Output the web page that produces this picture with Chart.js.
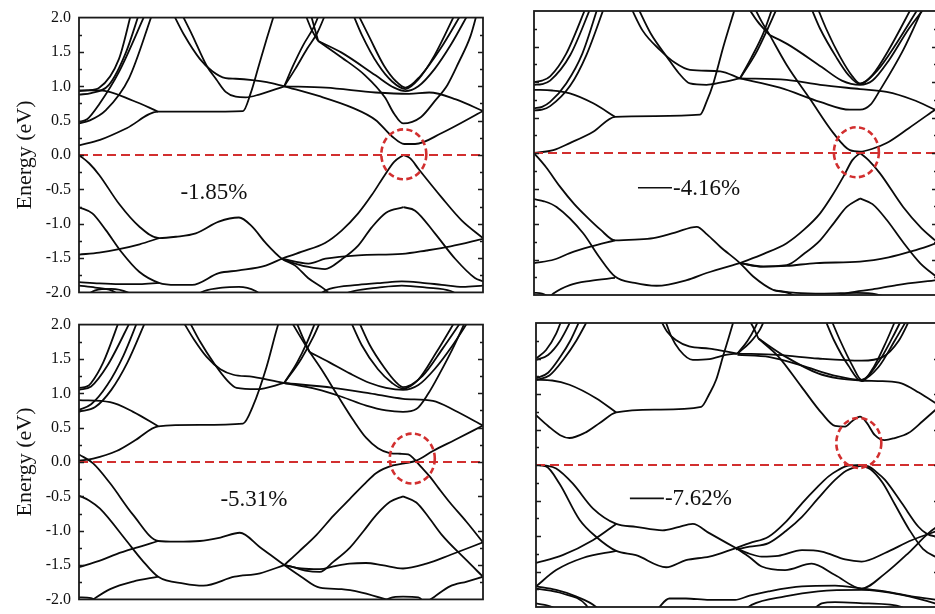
<!DOCTYPE html>
<html>
<head>
<meta charset="utf-8">
<script src="https://cdn.jsdelivr.net/npm/chart.js@4.4.1/dist/chart.umd.min.js"></script>
<style>
  html, body { margin: 0; padding: 0; background: #fff; overflow: hidden; }
  body { width: 935px; height: 614px; position: relative; }
  .panel { position: absolute; }
</style>
</head>
<body>
<div class="panel" style="left:0;top:0"><canvas id="p1" width="490" height="310"></canvas></div>
<div class="panel" style="left:500px;top:0"><canvas id="p2" width="440" height="310"></canvas></div>
<div class="panel" style="left:0;top:307px"><canvas id="p3" width="490" height="310"></canvas></div>
<div class="panel" style="left:500px;top:307px"><canvas id="p4" width="442" height="310"></canvas></div>
<script>
// k runs 0..100 along the path, energies in eV relative to the Fermi level
const strainLabels = ['-1.85%', '-4.16%', '-5.31%', '-7.62%'];
const gapK = [80.4, 80.0, 82.5, 80.1];
const gapE = [0.01, 0.01, 0.05, 0.31];
const kRange = [0, 100];
const energyRange = [-2, 2];
const fermiLevel = 0;

const bandsP1 = [
  [[0,0.14],[5.2,0.22],[11.8,0.39],[19.6,0.63],[30,0.63],[40.6,0.64],[42.5,0.9],[44.5,1.3],[46.5,1.7],[48.5,2.08]],
  [[0,0.94],[5.2,0.94],[13.4,0.79],[19.6,0.63]],
  [[0,0.93],[2,0.94],[5,0.98],[9.9,1.40],[13,2.08]],
  [[0,0.88],[3,0.9],[7.4,1.02],[11.6,1.49],[15,2.08]],
  [[0,0.48],[2,0.52],[5,0.74],[9.9,1.21],[16.6,2.08]],
  [[0,0.46],[2.5,0.5],[6.6,0.65],[12.4,1.12],[18.3,2.08]],
  [[23.1,2.08],[26,1.75],[29.9,1.40],[33,1.22],[36.3,1.12],[38.8,1.11],[42.9,1.09],[46.5,1.06],[50.8,1.0]],
  [[25.2,2.08],[28,1.75],[31.6,1.30],[34,1.1],[36.3,0.92],[38.8,0.85],[41.3,0.84],[44.6,0.88],[50.8,1.0]],
  [[50.8,1.0],[53.5,1.25],[56.5,1.55],[59,1.78],[61.2,2.08]],
  [[50.8,1.0],[53,1.3],[55.5,1.6],[58,1.85],[59.7,2.08]],
  [[55.8,2.08],[57.6,1.82],[59.2,1.66]],
  [[57.2,2.08],[58.3,1.85],[59.2,1.66]],
  [[59.2,1.66],[65,1.42],[70.8,1.16],[75.7,0.84],[78,0.6],[80.2,0.46],[84.6,0.55],[88,0.78],[91.2,1.02],[94,1.35],[96.9,1.73],[98.6,2.08]],
  [[59.2,1.66],[65,1.49],[73.4,1.16],[78,0.98],[80.8,0.93],[84,1.0],[88,1.25],[92,1.6],[96.6,2.08]],
  [[50.8,1.0],[59.3,0.86],[67.6,0.69],[73.4,0.51],[77.5,0.27],[80.5,0.16],[83.2,0.16],[89.8,0.32],[100,0.64]],
  [[50.8,1.0],[61.1,0.98],[73.4,0.91],[81.7,0.89],[86.7,0.91],[93.3,0.81],[100,0.64]],
  [[67.6,2.08],[70,1.75],[74,1.32],[77.5,1.07],[80.8,0.96],[84,1.1],[88,1.45],[93.3,2.08]],
  [[68.8,2.08],[72,1.7],[75.5,1.3],[78.5,1.07],[80.8,0.98],[84.5,1.15],[89.5,1.55],[94.9,2.08]],
  [[0,0],[2.5,-0.12],[5,-0.29],[9.9,-0.71],[14.9,-1.04],[19.8,-1.21],[24,-1.19],[28.9,-1.14],[34.6,-0.97],[39.6,-0.91],[42.8,-1.04],[46.2,-1.28],[50.2,-1.51],[53.5,-1.61],[56.7,-1.79],[60.9,-1.96],[63,-2.08]],
  [[0,-0.76],[3.3,-0.85],[6.6,-1.09],[10.6,-1.42],[14.9,-1.70],[19.8,-1.86],[24,-1.89],[28,-1.89],[34.6,-1.72],[39.6,-1.68],[46.2,-1.61],[50.2,-1.51]],
  [[0,-1.45],[5,-1.42],[9.9,-1.37],[15,-1.3],[19.8,-1.21]],
  [[0,-1.85],[5,-1.87],[10,-1.88],[15,-1.88],[19.8,-1.86]],
  [[0,-1.9],[4,-1.93],[8,-1.97],[11,-2.08]],
  [[1,-2.08],[4,-1.97],[8,-1.95],[12,-2.0],[14,-2.08]],
  [[28,-2.08],[31,-1.98],[35.5,-1.93],[39.6,-1.92],[43.7,-1.98],[46,-2.08]],
  [[58,-2.08],[62,-1.95],[69.1,-1.89],[75,-1.86],[79.9,-1.84],[85,-1.86],[89.8,-1.89],[95,-1.92],[100,-1.9]],
  [[63,-2.08],[68,-1.98],[74,-1.93],[79.9,-1.9],[86,-1.93],[92,-1.98],[95,-2.08]],
  [[50.2,-1.51],[55,-1.41],[60.9,-1.28],[65,-1.1],[69.1,-0.85],[72.5,-0.58],[75.7,-0.29],[78,-0.1],[80.3,0]],
  [[80.3,0],[82,-0.05],[84,-0.2],[89.8,-0.62],[94.7,-0.95],[100,-1.21]],
  [[50.2,-1.51],[53.5,-1.58],[56.8,-1.63],[60.9,-1.66],[65,-1.52],[69.1,-1.32],[72.5,-1.05],[76,-0.84],[80.3,-0.76]],
  [[80.3,-0.76],[83.2,-0.81],[88.1,-1.14],[93.1,-1.51],[98,-1.79],[100,-1.84]],
  [[50.2,-1.51],[56.8,-1.58],[61,-1.51],[69.1,-1.46],[80,-1.44],[86,-1.39],[92,-1.33],[100,-1.22]]
];

const bandsP2 = [
  [[0,0],[4.8,0.04],[8.9,0.14],[14.7,0.30],[20.1,0.51],[30,0.52],[41.2,0.54],[42.8,0.72],[44.5,0.98],[47,1.5],[49.5,1.97],[50.1,2.08]],
  [[0,0.89],[4.5,0.88],[8.9,0.84],[14.7,0.70],[20.1,0.51]],
  [[0,1.0],[2,1.02],[4,1.08],[8,1.4],[13.1,2.08]],
  [[0,0.96],[2,0.97],[4,1.02],[9,1.38],[14.3,2.08]],
  [[0,0.63],[2,0.65],[4,0.72],[8,0.98],[12,1.4],[16,2.08]],
  [[0,0.60],[2,0.61],[4,0.66],[9,0.95],[13,1.38],[17.6,2.08]],
  [[23.8,2.08],[27,1.72],[31.3,1.45],[35,1.27],[38.7,1.17],[46.2,1.15],[51.1,1.05]],
  [[25.5,2.08],[29,1.68],[32.9,1.36],[36,1.12],[38.7,0.98],[42.8,0.96],[46.2,0.99],[51.1,1.05]],
  [[51.1,1.05],[54,1.35],[57,1.7],[59.4,2.08]],
  [[51.1,1.05],[55,1.4],[58,1.75],[60.6,2.08]],
  [[52.8,2.08],[55.5,1.85],[58.5,1.66]],
  [[54.4,2.08],[56.5,1.85],[58.5,1.66]],
  [[58.5,1.66],[62.7,1.24],[68.5,0.76],[74.3,0.28],[78.4,0.04],[80.9,0.02],[84,0.06],[87.5,0.14],[93,0.35],[99.5,0.61]],
  [[58.5,1.66],[63,1.53],[71.4,1.21],[76.4,1.02],[80.9,0.96],[84,1.02],[88,1.3],[93,1.75],[97.4,2.08]],
  [[51.1,1.05],[61,0.92],[71,0.72],[78.4,0.61],[80.9,0.61],[83.5,0.68],[85.9,0.89],[91.6,1.45],[96.8,2.08]],
  [[51.1,1.05],[62.7,1.03],[71,0.96],[80.9,0.90],[87.5,0.86],[94,0.75],[99.5,0.61]],
  [[68.5,2.08],[71,1.75],[75,1.35],[78,1.1],[80.9,0.97],[84,1.1],[88,1.45],[94,2.08]],
  [[70.1,2.08],[72.5,1.75],[76,1.35],[79,1.08],[80.9,0.98],[85,1.15],[90,1.55],[95.8,2.08]],
  [[0,0],[3,-0.2],[6.4,-0.47],[10,-0.72],[13.1,-0.90],[16.5,-1.08],[20.1,-1.23],[25,-1.22],[29.6,-1.20],[35,-1.12],[40.4,-1.04],[43,-1.15],[46.2,-1.32],[51.1,-1.55],[54.4,-1.74],[59.4,-1.93],[63,-1.97],[67,-2.08]],
  [[0,-0.65],[2.5,-0.68],[5.6,-0.76],[12.2,-1.13],[16,-1.45],[20.1,-1.74],[25,-1.83],[30.4,-1.87],[37.9,-1.79],[42.8,-1.69],[51.1,-1.55]],
  [[0,-1.55],[5,-1.5],[8.9,-1.41],[14,-1.32],[20.1,-1.23]],
  [[3,-2.08],[4.8,-1.98],[8.9,-1.86],[14,-1.8],[20.1,-1.76]],
  [[0,-1.97],[2,-1.98],[5,-2.08]],
  [[51.1,-1.55],[57,-1.42],[62.7,-1.27],[67,-1.08],[71,-0.85],[74,-0.6],[76.8,-0.33],[79,-0.1],[80.9,0]],
  [[80.9,0],[83,-0.1],[85.9,-0.29],[91.6,-0.76],[96,-1.05],[99.5,-1.23]],
  [[51.1,-1.55],[56.1,-1.6],[62.7,-1.58],[67,-1.42],[71,-1.23],[74.5,-0.98],[77.6,-0.76],[80.9,-0.64]],
  [[80.9,-0.64],[84,-0.72],[87.5,-0.94],[91.5,-1.25],[95.8,-1.55],[100,-1.75]],
  [[51.1,-1.55],[57,-1.6],[62.7,-1.59],[70,-1.55],[80.9,-1.53],[88,-1.47],[94,-1.38],[100,-1.27]],
  [[72,-2.08],[78,-1.97],[84,-1.92],[90,-1.86],[100,-1.79]],
  [[59.4,-1.93],[65,-1.97],[72,-1.98],[80,-1.97],[85,-1.99],[90,-2.08]]
];

const bandsP3 = [
  [[0,0.02],[3.5,0.05],[9.3,0.16],[14,0.32],[19.6,0.52],[30,0.54],[40.6,0.56],[43.1,0.82],[46.4,1.38],[49.3,2.0],[49.8,2.08]],
  [[0,0.90],[7.7,0.87],[13.4,0.73],[19.6,0.52]],
  [[0,1.08],[2,1.1],[3,1.15],[6,1.45],[10.1,2.08]],
  [[0,1.05],[3,1.1],[7,1.4],[13,2.08]],
  [[0,0.76],[3,0.84],[7,1.12],[11,1.55],[14.7,2.08]],
  [[0,0.73],[4,0.8],[8,1.05],[12,1.45],[16.7,2.08]],
  [[25.4,2.08],[28.5,1.78],[31.6,1.53],[35,1.35],[38.2,1.27],[43.1,1.24],[50.8,1.15]],
  [[27,2.08],[30,1.75],[33.5,1.43],[36.5,1.2],[39,1.08],[44,1.06],[50.8,1.15]],
  [[50.8,1.15],[54,1.45],[56.5,1.75],[58.8,2.08]],
  [[50.8,1.15],[55,1.5],[58,1.82],[60,2.08]],
  [[52.2,2.08],[54.5,1.85],[57.1,1.6]],
  [[53.5,2.08],[55.5,1.8],[57.1,1.6]],
  [[57.1,1.6],[62,1.45],[67,1.29],[72,1.15],[76,1.08],[80.2,1.05],[84,1.12],[88,1.35],[92.5,1.7],[96.7,2.08]],
  [[67,2.08],[70,1.7],[74,1.35],[77.5,1.15],[80.2,1.07],[84,1.2],[88.5,1.6],[93.4,2.08]],
  [[69,2.08],[72,1.7],[75.5,1.38],[78.5,1.16],[80.2,1.09],[85,1.25],[90,1.65],[95,2.08]],
  [[50.8,1.15],[62.9,1.08],[72,1.0],[80.2,0.92],[87.6,0.89],[93,0.75],[100,0.53]],
  [[50.8,1.15],[58.8,1.06],[65,0.95],[71.1,0.82],[76,0.75],[80.2,0.73],[83.5,0.77],[86.5,1.0],[89.3,1.29],[92.5,1.65],[95.9,2.08]],
  [[57.1,1.6],[60,1.35],[64,0.97],[68,0.6],[71.1,0.35],[74,0.2],[76.9,0.13],[79.5,0.12],[81.5,0.11],[83,0.04],[84.5,-0.06],[86.8,-0.21],[89,-0.38],[91.8,-0.59],[95.9,-0.87],[100,-1.17]],
  [[50.8,-1.5],[54.5,-1.3],[58.8,-1.06],[63,-0.78],[67,-0.54],[70.5,-0.33],[73.6,-0.16],[77.7,-0.05],[80.5,-0.02],[83.5,0.02],[87.6,0.16],[93,0.32],[100,0.53]],
  [[50.8,-1.5],[53,-1.53],[56,-1.58],[59.6,-1.6],[63,-1.45],[67,-1.25],[70.5,-1.0],[73.6,-0.77],[77,-0.58],[80.2,-0.5]],
  [[80.2,-0.5],[83.5,-0.59],[86.5,-0.8],[89.8,-1.06],[95.9,-1.43],[100,-1.67]],
  [[50.8,-1.5],[55,-1.55],[59.6,-1.56],[63,-1.52],[67,-1.48],[71,-1.47],[75,-1.5],[80.2,-1.55],[86,-1.48],[92,-1.35],[100,-1.17]],
  [[0,0.11],[3.5,-0.02],[7.7,-0.31],[13.4,-0.77],[19.6,-1.15],[24,-1.16],[29.9,-1.15],[35,-1.1],[39.8,-1.03],[44.8,-1.24],[50.8,-1.5],[55,-1.67],[59.6,-1.83],[65,-1.85],[70,-1.9],[76,-2.0],[80,-2.08]],
  [[0,-0.49],[2.5,-0.56],[5.2,-0.68],[11.8,-1.15],[15.5,-1.42],[19.6,-1.67],[26,-1.77],[30.8,-1.8],[38.5,-1.67],[44.8,-1.62],[50.8,-1.5]],
  [[0,-1.53],[5,-1.44],[9.3,-1.34],[14,-1.25],[19.6,-1.15]],
  [[1.5,-2.08],[3.5,-2.0],[7.7,-1.85],[13.4,-1.74],[19.6,-1.67]],
  [[0,-1.97],[3,-1.98],[6,-2.08]],
  [[74,-2.08],[77,-1.98],[80.2,-1.96],[84,-1.97],[86,-2.08]],
  [[85,-2.08],[88,-1.96],[91.8,-1.81],[96,-1.74],[100,-1.67]]
];

const bandsP4 = [
  [[0,0.70],[3,0.55],[6,0.42],[8.3,0.38],[12,0.45],[16,0.6],[19.9,0.74],[30,0.78],[41,0.82],[43,1.0],[44.7,1.2],[46.5,1.55],[47.9,1.81],[49.3,2.08]],
  [[0,1.20],[4,1.19],[8.3,1.13],[14.9,0.94],[19.9,0.74]],
  [[0,1.5],[2.5,1.62],[5,1.85],[6.6,2.08]],
  [[0,1.48],[3,1.55],[6,1.75],[9.1,2.08]],
  [[0,1.22],[3,1.3],[6,1.52],[8.5,1.75],[11.2,2.08]],
  [[0,1.20],[3.3,1.26],[7,1.5],[10,1.75],[13.2,2.08]],
  [[30.6,2.08],[32.5,1.88],[34.7,1.76],[38,1.67],[43,1.64],[47.1,1.6],[50,1.57]],
  [[31.8,2.08],[33.5,1.82],[35.6,1.62],[38.9,1.48],[43,1.49],[47.1,1.55],[50,1.57]],
  [[50,1.57],[52.5,1.75],[54.5,1.95],[55.5,2.08]],
  [[50,1.57],[53,1.72],[55.5,1.9],[57,2.08]],
  [[52.5,2.08],[54,1.93],[55.2,1.78]],
  [[55.2,1.78],[60.1,1.53],[65.9,1.10],[70.9,0.73],[74.2,0.55],[76.7,0.54],[78.5,0.62],[80.4,0.68],[82,0.6],[84.1,0.42],[86.5,0.35],[89,0.38],[92.4,0.45],[96,0.62],[100,0.82]],
  [[55.2,1.78],[61.8,1.53],[70,1.29],[75,1.22],[80.8,1.19],[86,1.18],[90.7,1.15],[95,1.02],[100,0.84]],
  [[50,1.57],[60,1.55],[70,1.5],[80.8,1.47],[86,1.52],[90,1.75],[93,2.08]],
  [[50,1.55],[58,1.52],[66,1.4],[74,1.26],[80.8,1.2],[85,1.38],[89,1.75],[92.4,2.08]],
  [[71.5,2.08],[74,1.75],[77.5,1.4],[80.8,1.18],[84,1.4],[87,1.75],[89.5,2.08]],
  [[73,2.08],[75.5,1.75],[78.5,1.4],[80.8,1.20],[85,1.45],[88.5,1.8],[91,2.08]],
  [[0,0],[2.5,-0.01],[5,-0.05],[9.1,-0.26],[14.1,-0.61],[19.9,-0.83],[24.8,-0.87],[31.4,-0.92],[35,-0.88],[38.9,-0.83],[43,-0.96],[49.6,-1.17]],
  [[0,0],[2.5,-0.02],[5.8,-0.26],[10.8,-0.77],[14.9,-1.01],[19.9,-1.21],[24.8,-1.27],[32.3,-1.44],[37.2,-1.34],[43,-1.29],[49.6,-1.17]],
  [[0,-1.38],[6.6,-1.27],[14.1,-1.06],[19.9,-0.83]],
  [[0,-1.71],[5,-1.48],[11.6,-1.31],[19.9,-1.21]],
  [[0,-1.71],[5,-1.76],[9.9,-1.85],[14.9,-2.0],[16,-2.08]],
  [[0,-1.74],[6.6,-1.81],[12.4,-1.97],[13.5,-2.08]],
  [[0,-1.95],[4,-2.0],[6,-2.08]],
  [[29.5,-2.08],[30.6,-2.0],[33.1,-1.88],[37.2,-1.88],[43,-1.9],[49.4,-1.90],[53,-1.84],[57.7,-1.78],[66,-1.71],[74.2,-1.70],[80.8,-1.74],[86.6,-1.78],[93.2,-1.85],[100,-1.90]],
  [[51,-2.08],[53.5,-1.97],[61.8,-1.85],[70,-1.78],[80.8,-1.76],[90.8,-1.83],[99,-1.95],[100,-1.97]],
  [[68,-2.08],[70.9,-1.95],[74.2,-1.93],[82.5,-1.95],[90.8,-2.0],[92,-2.08]],
  [[49.6,-1.17],[53,-1.25],[56,-1.29],[60.1,-1.28],[66,-1.2],[70.9,-1.22],[76.7,-1.33],[80.8,-1.36],[86.6,-1.24],[93.2,-1.06],[100,-0.92]],
  [[49.6,-1.17],[53,-1.3],[56,-1.43],[61.8,-1.48],[68.4,-1.39],[74.2,-1.55],[80.8,-1.74],[86.6,-1.53],[92.4,-1.24],[97.4,-0.96],[100,-0.85]],
  [[49.6,-1.17],[53,-1.1],[57.7,-1.01],[62,-0.8],[66,-0.54],[69.5,-0.33],[72.6,-0.16],[75,-0.07],[77.5,-0.01],[80.4,0]],
  [[49.6,-1.19],[53,-1.15],[57.7,-1.10],[62,-0.93],[66,-0.73],[70,-0.47],[74.2,-0.21],[77,-0.08],[79.2,-0.03],[80.8,-0.01]],
  [[80.4,0],[82.5,-0.02],[84.5,-0.1],[86.6,-0.21],[90.8,-0.54],[94.9,-0.87],[97,-0.97],[100,-1.02]],
  [[80.8,-0.01],[83,-0.06],[86,-0.25],[89,-0.55],[92.5,-0.9],[96,-1.18],[100,-1.32]]
];

const RED = '#d22f2f';
Chart.defaults.font.family = '"Liberation Serif", "Times New Roman", serif';

// frame, inward ticks, highlighted gap circle and strain label
const decor = {
  id: 'decor',
  afterDraw(chart, args, opts) {
    const { ctx, chartArea: a, scales: { x, y } } = chart;
    ctx.save();
    ctx.strokeStyle = '#1a1a1a';
    ctx.lineWidth = 1.3;
    for (let e = energyRange[0] + 0.25; e < energyRange[1]; e += 0.25) {
      const py = Math.round(y.getPixelForValue(e)) + 0.5;
      const len = Math.abs(e * 2 - Math.round(e * 2)) < 1e-6 ? 5 : 3;
      ctx.beginPath();
      ctx.moveTo(a.left, py); ctx.lineTo(a.left + len, py);
      ctx.moveTo(a.right, py); ctx.lineTo(a.right - len, py);
      ctx.stroke();
    }
    ctx.lineWidth = 1.8;
    ctx.strokeRect(a.left, a.top, a.right - a.left, a.bottom - a.top);

    // dashed circle around the gap
    const cx = x.getPixelForValue(gapK[opts.index]);
    const cy = y.getPixelForValue(gapE[opts.index]);
    ctx.strokeStyle = RED;
    ctx.lineWidth = 2.6;
    ctx.setLineDash([6, 3.5]);
    ctx.beginPath();
    ctx.ellipse(cx, cy, 22.5, 25, 0, 0, Math.PI * 2);
    ctx.stroke();
    ctx.setLineDash([]);

    // strain label
    const tx = x.getPixelForValue(opts.tag.k);
    const ty = y.getPixelForValue(opts.tag.e);
    ctx.fillStyle = '#111';
    ctx.font = '23px "Liberation Serif", serif';
    ctx.textBaseline = 'middle';
    if (opts.tag.line) {
      ctx.strokeStyle = '#111';
      ctx.lineWidth = 1.6;
      ctx.beginPath();
      ctx.moveTo(tx, ty); ctx.lineTo(tx + 34, ty);
      ctx.stroke();
      ctx.textAlign = 'left';
      ctx.fillText(strainLabels[opts.index], tx + 35, ty + 1);
    } else {
      ctx.textAlign = 'center';
      ctx.fillText(strainLabels[opts.index], tx, ty);
    }
    ctx.restore();
  }
};

const panels = [
  { id: 'p1', bands: bandsP1, axis: true,  pad: { left: 0,  top: 14, right: 7, bottom: 12 }, tag: { k: 33.4, e: -0.55, line: false } },
  { id: 'p2', bands: bandsP2, axis: false, pad: { left: 34, top: 11, right: 3, bottom: 15 }, tag: { k: 25.8, e: -0.49, line: true } },
  { id: 'p3', bands: bandsP3, axis: true,  pad: { left: 0,  top: 14, right: 7, bottom: 12 }, tag: { k: 43.3, e: -0.55, line: false } },
  { id: 'p4', bands: bandsP4, axis: false, pad: { left: 36, top: 16, right: 3, bottom: 10 }, tag: { k: 23.3, e: -0.47, line: true } }
];

function bandSets(bands) {
  return bands.map(b => ({
    data: b.map(([k, e]) => ({ x: k, y: e })),
    borderColor: '#0a0a0a',
    borderWidth: 1.8,
    pointRadius: 0,
    cubicInterpolationMode: 'monotone',
    fill: false,
    clip: 0
  }));
}

panels.forEach((p, i) => {
  const fermi = {
    data: [{ x: kRange[0], y: fermiLevel }, { x: kRange[1], y: fermiLevel }],
    borderColor: RED,
    borderWidth: 2,
    borderDash: [9, 5],
    pointRadius: 0,
    clip: 0
  };
  const yAxis = p.axis ? {
    min: energyRange[0], max: energyRange[1],
    afterFit: s => { s.width = 79; },
    ticks: { stepSize: 0.5, padding: 8, color: '#111', font: { size: 16 }, callback: v => v.toFixed(1) },
    grid: { display: false, drawTicks: false },
    border: { display: false },
    title: { display: true, text: 'Energy (eV)', color: '#111', font: { size: 22 }, padding: { top: 12, bottom: 0 } }
  } : { display: false, min: energyRange[0], max: energyRange[1] };

  new Chart(document.getElementById(p.id), {
    type: 'line',
    data: { datasets: [fermi, ...bandSets(p.bands)] },
    options: {
      responsive: false,
      animation: false,
      events: [],
      layout: { padding: p.pad },
      scales: {
        x: { type: 'linear', display: false, min: kRange[0], max: kRange[1] },
        y: yAxis
      },
      plugins: {
        legend: { display: false },
        tooltip: { enabled: false },
        decor: { index: i, tag: p.tag }
      }
    },
    plugins: [decor]
  });
});
</script>
</body>
</html>
